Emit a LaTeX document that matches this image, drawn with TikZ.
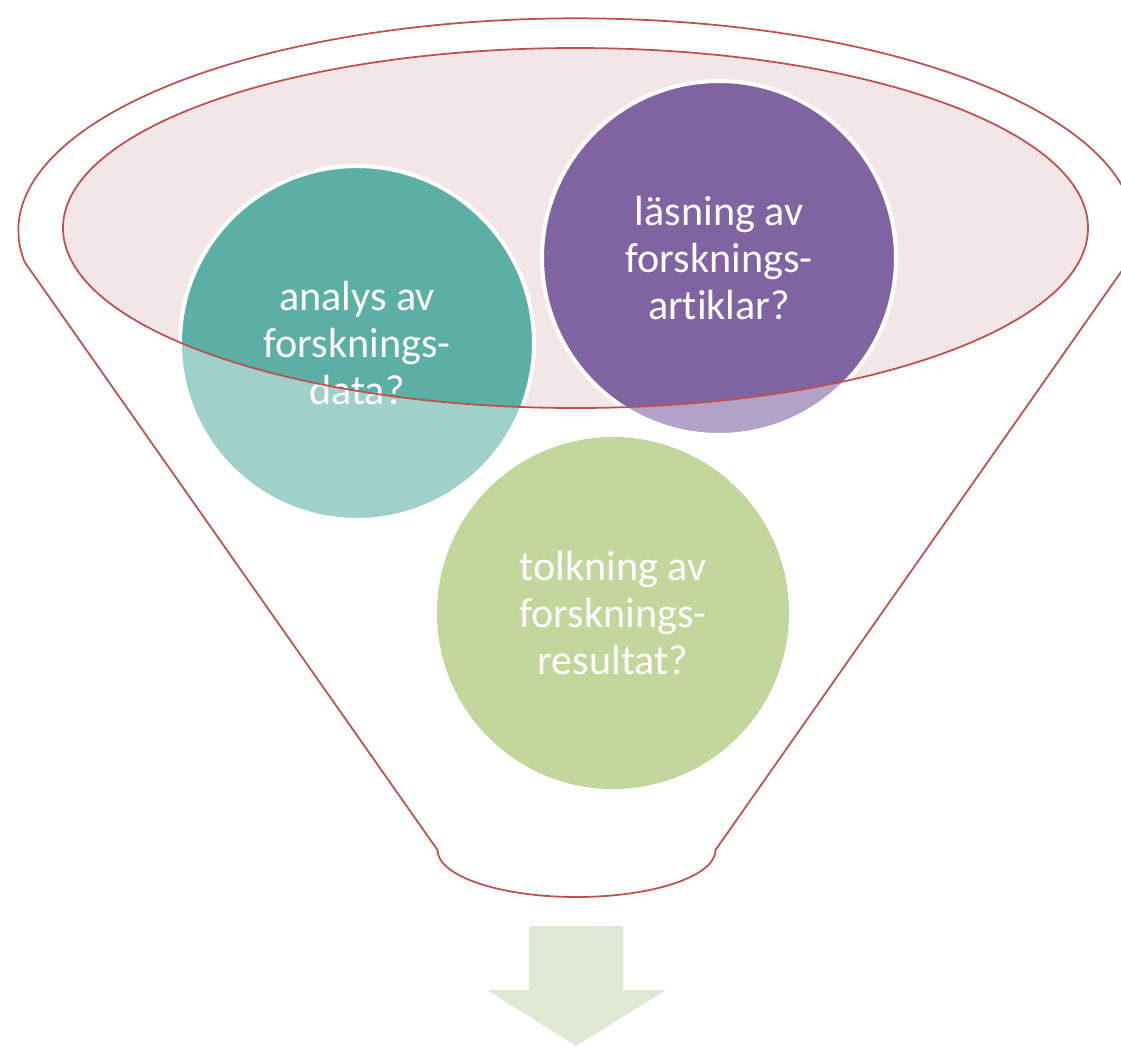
\documentclass[tikz,border=0pt]{standalone}
\usepackage{fontspec}
\setmainfont{Carlito}[Ligatures=NoCommon]
\usepackage{xcolor}
\usepackage{tikz}

\definecolor{funnelred}{HTML}{C0504D}
\definecolor{funnelpink}{HTML}{F2E6E7}
\definecolor{tealdark}{HTML}{5BAFA5}
\definecolor{teallight}{HTML}{A0D0CA}
\definecolor{purpledark}{HTML}{8064A2}
\definecolor{purplelight}{HTML}{B3A2C7}
\definecolor{greenbubble}{HTML}{C3D69B}
\definecolor{arrowgreen}{HTML}{DEE8D2}

\begin{document}
\begin{tikzpicture}[x=0.02cm, y=-0.02cm,
    rim/.style={draw=funnelred, line width=1pt},
    bubbletext/.style={text=white, align=center, font=\fontsize{24}{26.7}\selectfont}]
    \useasboundingbox (0,0) rectangle (1121,1046);
    \coordinate (cA) at (357,343);
    \coordinate (cL) at (719,258);
    \coordinate (cT) at (613,613);
    % funnel outline
    \draw[rim] (715.5,850) -- (1128,262) arc[start angle=8.6, end angle=-188.6, x radius=558, y radius=212]
        -- (437.5,850) arc[start angle=180, end angle=0, x radius=139, y radius=47] -- cycle;
    \fill[funnelpink] (575.5,228) ellipse[x radius=512.5, y radius=180];
    % bubbles
    \fill[teallight] (cA) circle[radius=177];
    \fill[purplelight] (cL) circle[radius=177];
    \fill[greenbubble] (cT) circle[radius=176];
    \begin{scope}
        \clip (575.5,228) ellipse[x radius=512.5, y radius=180];
        \fill[tealdark] (cA) circle[radius=177];
        \fill[purpledark] (cL) circle[radius=177];
    \end{scope}
    \draw[white, line width=2.3pt] (cA) circle[radius=177];
    \draw[white, line width=2.3pt] (cL) circle[radius=177];
    \node[bubbletext] (analys) at (cA) {analys av\\forsknings-\\data?};
    \node[bubbletext] (lasning) at (cL) {läsning av\\forsknings-\\artiklar?};
    \node[bubbletext] (tolkning) at (cT) {tolkning av\\forsknings-\\resultat?};
    \draw[rim] (575.5,228) ellipse[x radius=512.5, y radius=180];
    % arrow below
    \fill[arrowgreen] (529,926) -- (623,926) -- (623,990) -- (666,990) -- (576,1046)
        -- (487,990) -- (529,990) -- cycle;
\end{tikzpicture}
\end{document}
